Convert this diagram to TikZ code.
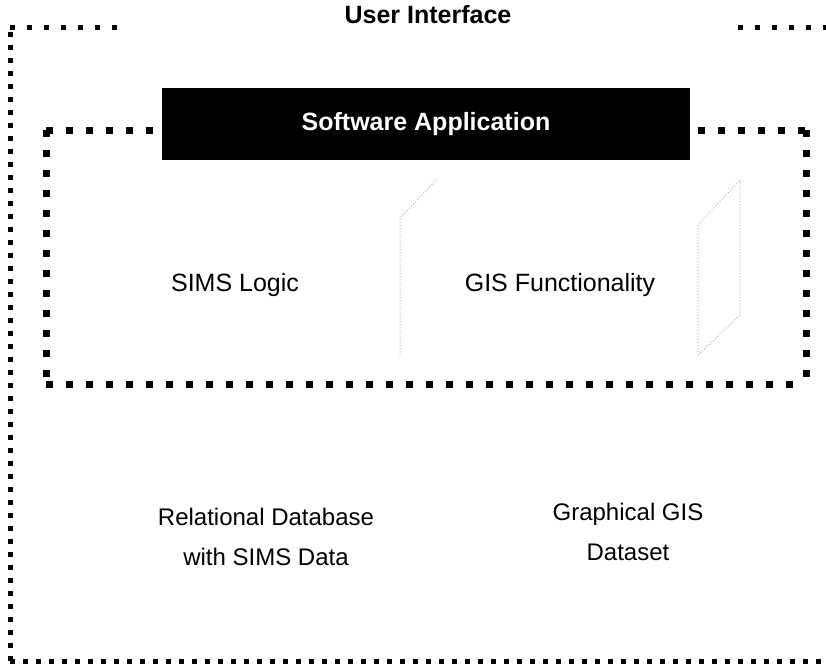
\documentclass[tikz,border=0pt]{standalone}
\usepackage{fontspec}
\setmainfont{Liberation Sans}
\begin{document}
\begin{tikzpicture}[x=1pt,y=-1pt,
  outerdots/.style={line width=5pt,dash pattern=on 5pt off 8pt,line cap=butt},
  outertop/.style={line width=5pt,dash pattern=on 5pt off 12pt,line cap=butt},
  innerdots/.style={line width=7pt,dash pattern=on 7pt off 13pt,line cap=butt},
  faint/.style={draw=black!30,line width=1pt,dotted},
  label/.style={font=\fontsize{25}{30}\selectfont,align=center,inner sep=0pt},
  title/.style={font=\fontsize{25}{30}\selectfont\bfseries,inner sep=0pt}]
  \useasboundingbox (0,0) rectangle (826,666);

  % corners of the outer (user interface) frame
  \coordinate (oTL) at (10,28);
  \coordinate (oTLe) at (126,28);
  \coordinate (oTRs) at (738,28);
  \coordinate (oTR) at (826,28);
  \coordinate (oBL) at (10,661);
  \coordinate (oBR) at (826,661);

  % corners of the inner (software application) frame
  \coordinate (iTL) at (46,130);
  \coordinate (iTLe) at (160,130);
  \coordinate (iTRs) at (698,130);
  \coordinate (iTR) at (806,130);
  \coordinate (iBL) at (46,384);
  \coordinate (iBR) at (806,384);

  % outer frame: left side, bottom and the two top pieces
  \draw[outerdots] (oBL) -- (oTL);
  \draw[outertop] (oTL) -- (oTLe);
  \draw[outertop] (oTRs) -- (oTR);
  \draw[outerdots] (oBL) -- (oBR);

  % inner frame
  \draw[innerdots] (iTL) -- (iTLe);
  \draw[innerdots] (iTRs) -- (iTR);
  \draw[innerdots] (iTL) -- (iBL);
  \draw[innerdots] (iTR) -- (iBR);
  \draw[innerdots] (iBL) -- (iBR);

  % faint edges of the shaded blocks
  \draw[faint] (400,355) -- (400,218) -- (438,178);
  \draw[faint] (698,355) -- (698,225) -- (740,180) -- (740,315) -- cycle;

  % titles
  \node[title] (ui) at (428,15) {User Interface};
  \node[fill=black,minimum width=528pt,minimum height=72pt,inner sep=0pt] (app) at (426,124) {};
  \node[title,text=white] (apptxt) at (app) {Software Application};

  % contents
  \node[label] (sims) at (235,285) {SIMS Logic};
  \node[label] (gis) at (560,285) {GIS Functionality};
  \node[label,font=\fontsize{24}{40}\selectfont] (rdb) at (266,537) {Relational Database\\with SIMS Data};
  \node[label,font=\fontsize{24}{40}\selectfont] (gds) at (628,532) {Graphical GIS\\Dataset};
\end{tikzpicture}
\end{document}
